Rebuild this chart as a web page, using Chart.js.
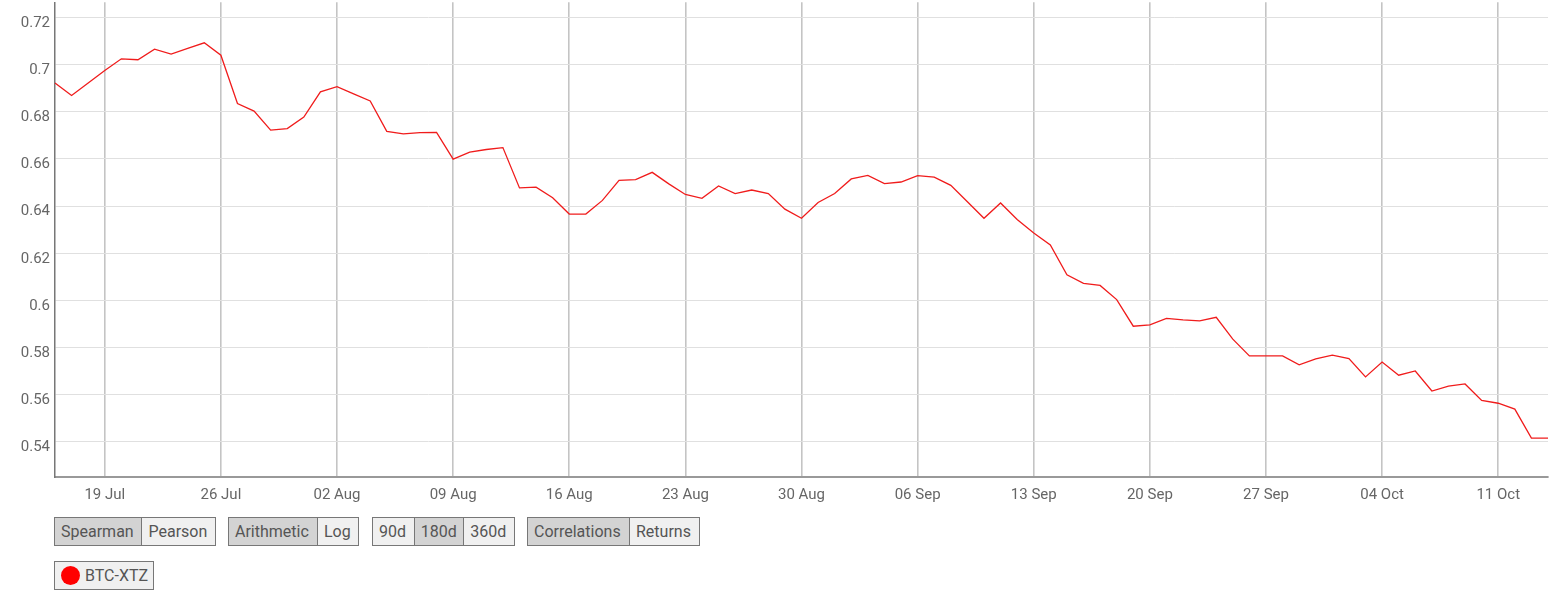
<!DOCTYPE html>
<html>
<head>
<meta charset="utf-8">
<script src="https://cdn.jsdelivr.net/npm/chart.js@4"></script>
<style>
  body { margin: 0; background: #fff; font-family: Roboto, sans-serif; overflow: hidden; }
  #wrap { position: absolute; left: 0; top: -14px; width: 1562px; height: 519px; }
  .grp { position: absolute; top: 517px; height: 27px; display: flex; border: 1px solid #777; }
  .grp div { padding: 0 6px; line-height: 27px; font-size: 16px; color: #555; background: #f0f0f0; border-left: 1px solid #777; }
  .grp div:first-child { border-left: none; }
  .grp div.on { background: #d3d3d3; }
  #legend { position: absolute; left: 54px; top: 561px; width: 98px; height: 27px; border: 1px solid #777; background: #f0f0f0; font-size: 16px; color: #555; line-height: 27px; }
  #legend span.dot { position: absolute; left: 6px; top: 4px; width: 19px; height: 19px; border-radius: 50%; background: #f00; }
  #legend span.txt { position: absolute; left: 30px; }
</style>
</head>
<body>
<div id="wrap"><canvas id="chart"></canvas></div>

<div class="grp" style="left:54px;width:160px"><div class="on" style="width:75px">Spearman</div><div style="width:61px">Pearson</div></div>
<div class="grp" style="left:228px;width:129px"><div class="on" style="width:76px">Arithmetic</div><div style="width:28px">Log</div></div>
<div class="grp" style="left:372px;width:141px"><div style="width:29px">90d</div><div class="on" style="width:37px">180d</div><div style="width:38px">360d</div></div>
<div class="grp" style="left:527px;width:171px"><div class="on" style="width:89px">Correlations</div><div style="width:57px">Returns</div></div>
<div id="legend"><span class="dot"></span><span class="txt">BTC-XTZ</span></div>

<script>
// daily dates, 16 Jul .. 14 Oct
const months = ['Jul', 'Aug', 'Sep', 'Oct']
const monthDays = [31, 31, 30, 31]
let dates = []
{
    let m = 0, d = 16
    for (let i = 0; i < 91; i++) {
        dates.push((d < 10 ? '0' + d : '' + d) + ' ' + months[m])
        d++
        if (d > monthDays[m]) { d = 1; m++ }
    }
}

const btcXtz = [
    0.6922, 0.6869, 0.6922, 0.6975, 0.7025, 0.7021, 0.7066, 0.7045, 0.7069, 0.7093,
    0.7040, 0.6835, 0.6803, 0.6722, 0.6729, 0.6778, 0.6885, 0.6907, 0.6876, 0.6846,
    0.6717, 0.6706, 0.6712, 0.6713, 0.6599, 0.6629, 0.6640, 0.6648, 0.6477, 0.6480,
    0.6435, 0.6366, 0.6366, 0.6424, 0.6509, 0.6512, 0.6543, 0.6494, 0.6449, 0.6433,
    0.6485, 0.6453, 0.6468, 0.6453, 0.6387, 0.6348, 0.6415, 0.6453, 0.6515, 0.6530,
    0.6495, 0.6502, 0.6529, 0.6523, 0.6488, 0.6418, 0.6348, 0.6413, 0.6343, 0.6286,
    0.6235, 0.6108, 0.6072, 0.6063, 0.6003, 0.5890, 0.5896, 0.5923, 0.5917, 0.5913,
    0.5928, 0.5835, 0.5764, 0.5764, 0.5764, 0.5726, 0.5751, 0.5767, 0.5753, 0.5675,
    0.5738, 0.5682, 0.5700, 0.5615, 0.5636, 0.5645, 0.5575, 0.5563, 0.5538, 0.5415,
    0.5415
]

const yTicks = [0.54, 0.56, 0.58, 0.6, 0.62, 0.64, 0.66, 0.68, 0.7, 0.72]
const xTickLabels = ['19 Jul', '26 Jul', '02 Aug', '09 Aug', '16 Aug', '23 Aug', '30 Aug',
    '06 Sep', '13 Sep', '20 Sep', '27 Sep', '04 Oct', '11 Oct']

const data = {
    labels: dates,
    datasets: [{
            label: 'BTC-XTZ',
            data: btcXtz,
            borderColor: '#f01c1c',
            borderWidth: 1.3,
            pointRadius: 0,
            tension: 0,
            fill: false
        }]
}

const config = {
    type: 'line',
    data: data,
    options: {
        responsive: true,
        maintainAspectRatio: false,
        animation: false,
        layout: { padding: { top: 0, right: 14, left: 0, bottom: 0 } },
        plugins: { legend: { display: false }, tooltip: { enabled: false } },
        scales: {
            x: {
                offset: false,
                afterBuildTicks: (scale) => {
                    scale.ticks = xTickLabels.map(l => ({ value: dates.indexOf(l) }))
                },
                afterFit: (scale) => { scale.height = 28 },
                ticks: {
                    autoSkip: false,
                    maxRotation: 0,
                    padding: 9,
                    color: '#666',
                    font: { family: 'Roboto', size: 15 },
                    callback: function (value) { return this.getLabelForValue(value) }
                },
                grid: { color: '#c4c4c4', lineWidth: 1.6, drawTicks: false },
                border: { color: '#999', width: 2 }
            },
            y: {
                min: 0.525,
                max: 0.7265,
                afterBuildTicks: (scale) => {
                    scale.ticks = yTicks.map(v => ({ value: v }))
                },
                afterFit: (scale) => { scale.width = 55 },
                ticks: {
                    padding: 5,
                    color: '#666',
                    // labels sit a few px below their grid lines in the original
                    font: { family: 'Roboto', size: 15, lineHeight: 0.75 },
                    callback: (v) => ['', String(Math.round(v * 100) / 100)]
                },
                grid: { color: '#e0e0e0', lineWidth: 1, drawTicks: false },
                border: { color: '#777', width: 1.5 }
            }
        }
    }
}

let ctx = document.getElementById('chart').getContext('2d')
new Chart(ctx, config)
</script>
</body>
</html>
